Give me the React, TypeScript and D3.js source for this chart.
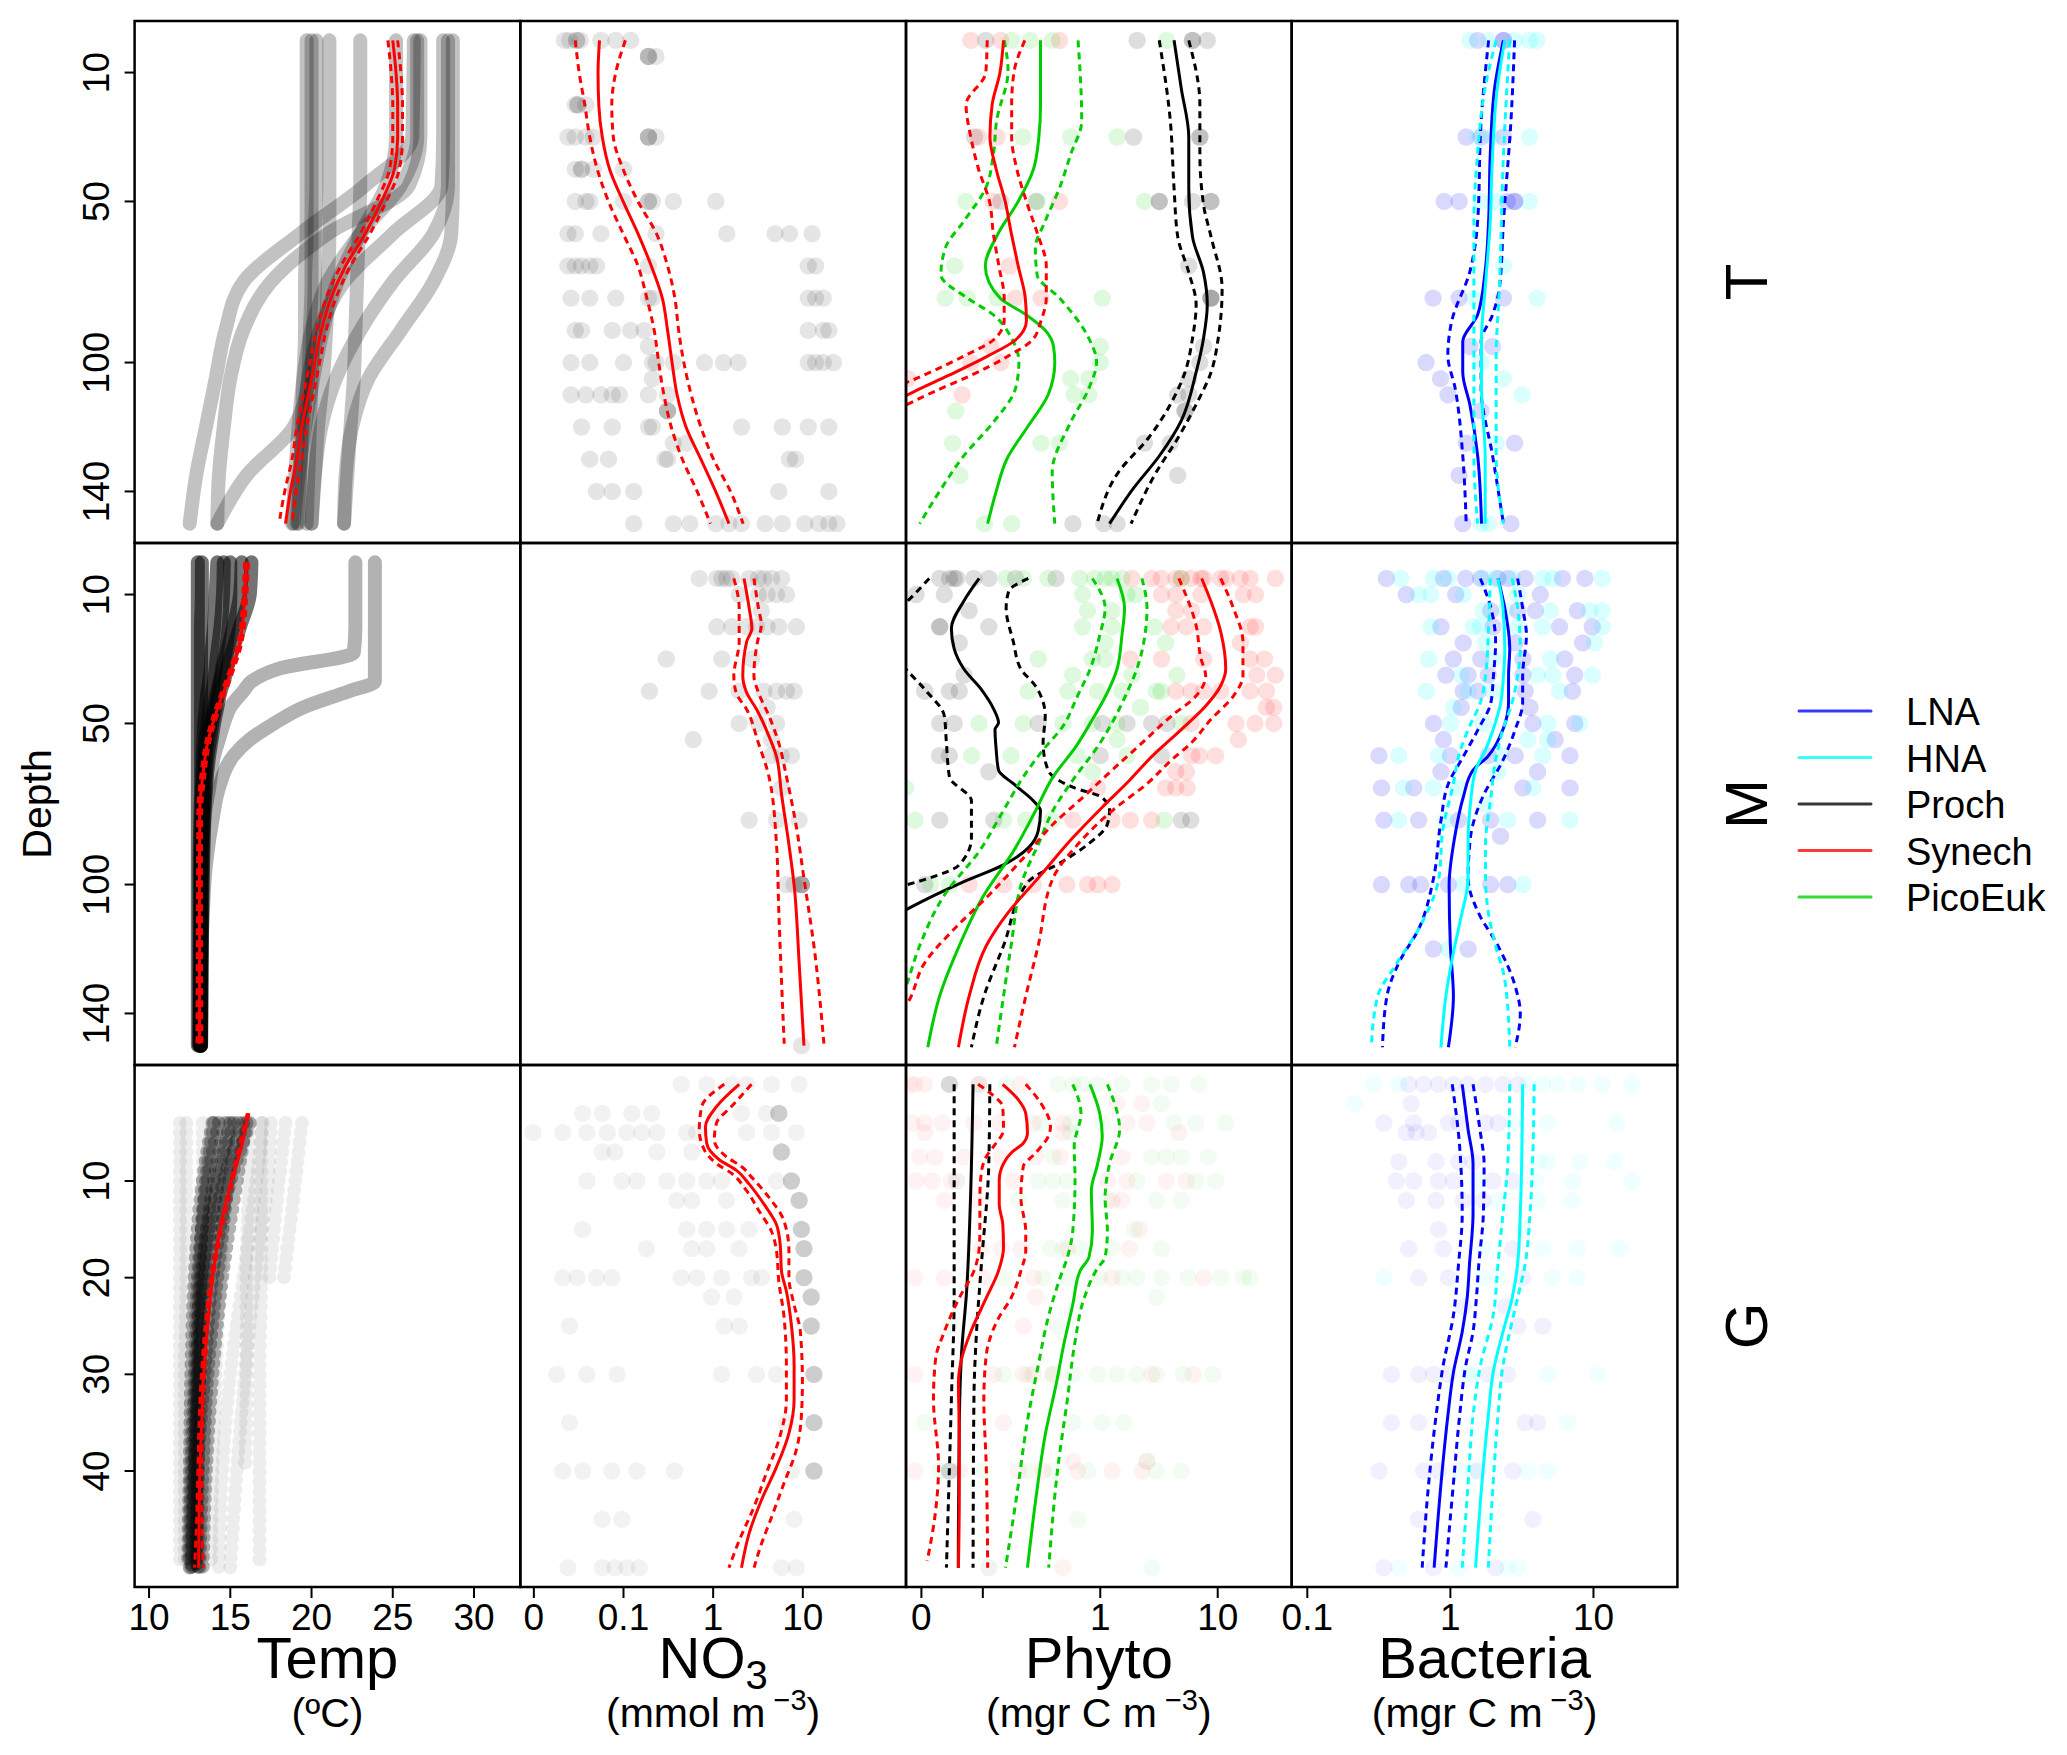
import React from 'react';
import * as d3 from 'd3';

type P = [number, number]; // [depth, value]
type Row = [number, number[]]; // depth, values seen at that depth

// ---------- temperature profiles ----------
const tempDepthT = [0, 30, 45, 60, 75, 90, 105, 120, 135, 150];
const tempProfT = [
  [19.7, 19.7, 19.7, 19.7, 19.6, 19.6, 19.5, 19.4, 19.3, 19.2],
  [20.3, 20.3, 20.3, 20.2, 20.2, 20.1, 20.0, 19.9, 19.8, 19.7],
  [21.1, 21.1, 21.1, 21.1, 21.0, 20.9, 20.7, 20.4, 20.2, 20.0],
  [23.0, 23.0, 23.0, 22.9, 22.8, 22.7, 22.6, 22.4, 22.2, 22.0],
  [25.2, 25.2, 24.6, 23.0, 21.6, 20.7, 20.1, 19.6, 19.2, 18.9],
  [26.3, 26.2, 23.3, 19.3, 15.8, 14.7, 14.1, 13.5, 12.9, 12.5],
  [26.7, 26.7, 26.0, 21.0, 17.5, 15.8, 15.0, 14.6, 14.3, 14.2],
  [28.1, 28.1, 28.0, 25.0, 22.0, 20.5, 19.8, 19.5, 19.3, 19.1],
  [28.4, 28.4, 28.4, 27.5, 25.0, 23.0, 21.5, 20.6, 20.2, 20.0],
  [28.7, 28.7, 28.7, 28.6, 27.5, 25.5, 23.5, 22.5, 22.1, 22.0],
  [20.0, 20.0, 20.0, 20.0, 20.0, 19.9, 19.8, 18.9, 16.0, 14.2],
  [26.5, 26.5, 25.5, 23.0, 21.0, 20.0, 19.5, 19.2, 19.0, 18.8],
];
const meanDepthT = [0, 10, 20, 30, 40, 50, 60, 70, 80, 90, 100, 110, 120, 130, 140, 150];
const tempMeanT = [25.0, 25.2, 25.3, 25.3, 25.1, 24.3, 23.3, 22.1, 21.2, 20.6, 20.2, 19.8, 19.4, 19.1, 18.7, 18.4];
const tempLoT = [24.7, 24.9, 25.0, 25.0, 24.8, 24.0, 23.0, 21.8, 20.9, 20.3, 19.9, 19.5, 19.1, 18.8, 18.35, 18.0];
const tempHiT = [25.3, 25.5, 25.6, 25.6, 25.4, 24.6, 23.6, 22.4, 21.5, 20.9, 20.5, 20.1, 19.7, 19.4, 19.05, 18.8];

const tempDepthM = [0, 10, 20, 28, 33, 37, 40, 45, 50, 55, 60, 70, 80, 100, 150];
const tempColdM = [
  [13.0, 13.0, 13.0, 13.0, 13.0, 13.0, 13.0, 13.0, 13.0, 13.0, 13.0, 13.0, 13.0, 13.0, 13.0],
  [13.25, 13.25, 13.2, 13.2, 13.2, 13.2, 13.2, 13.2, 13.2, 13.2, 13.2, 13.2, 13.15, 13.1, 13.1],
  [14.2, 14.1, 14.0, 13.85, 13.8, 13.7, 13.6, 13.5, 13.4, 13.35, 13.3, 13.25, 13.2, 13.15, 13.1],
  [14.6, 14.55, 14.4, 14.2, 14.1, 14.0, 13.9, 13.75, 13.6, 13.5, 13.4, 13.3, 13.25, 13.2, 13.15],
  [15.0, 15.0, 14.9, 14.7, 14.5, 14.35, 14.2, 14.0, 13.8, 13.6, 13.5, 13.4, 13.3, 13.2, 13.2],
  [15.7, 15.6, 15.2, 14.8, 14.6, 14.4, 14.3, 14.1, 13.9, 13.75, 13.6, 13.45, 13.35, 13.25, 13.2],
  [16.3, 16.2, 15.6, 15.1, 14.8, 14.6, 14.4, 14.2, 14.0, 13.85, 13.7, 13.5, 13.4, 13.3, 13.2],
];
const tempWarmM = [
  [22.7, 22.7, 22.7, 22.6, 18.0, 16.3, 15.8, 15.0, 14.6, 14.3, 14.0, 13.7, 13.4, 13.3, 13.2],
  [23.9, 23.9, 23.9, 23.9, 23.9, 23.9, 22.3, 19.5, 17.7, 16.2, 15.2, 14.3, 13.9, 13.4, 13.1],
];
const tempMeanM: P[] = [[0, 16.0], [10, 15.9], [24.7, 15.6], [35.2, 14.95], [45.6, 14.2], [56.1, 13.6], [66.6, 13.3], [77.1, 13.12], [98, 13.1], [149.4, 13.1]];
const tempLoM: P[] = [[0, 15.88], [10, 15.78], [24.7, 15.48], [35.2, 14.83], [45.6, 14.08], [56.1, 13.48], [66.6, 13.18], [77.1, 13.0], [98, 12.98], [149.4, 12.95]];
const tempHiM: P[] = [[0, 16.12], [10, 16.02], [24.7, 15.72], [35.2, 15.07], [45.6, 14.32], [56.1, 13.72], [66.6, 13.42], [77.1, 13.24], [98, 13.22], [149.4, 13.25]];

const tempDepthG = [4, 10, 20, 30, 40, 50];
const tempCoreG = [
  [15.8, 14.6, 13.6, 13.1, 12.8, 12.6],
  [15.2, 14.3, 13.4, 13.0, 12.8, 12.7],
  [14.7, 14.0, 13.2, 12.9, 12.7, 12.6],
  [16.2, 15.0, 13.9, 13.4, 13.0, 12.9],
  [14.3, 13.6, 13.0, 12.8, 12.6, 12.5],
  [13.9, 13.3, 12.8, 12.6, 12.5, 12.4],
  [15.5, 14.9, 14.2, 13.6, 13.3, 13.1],
  [16.0, 15.4, 14.5, 13.9, 13.5, 13.3],
  [14.0, 13.5, 13.1, 13.0, 12.9, 12.9],
  [15.0, 14.2, 13.3, 13.1, 13.0, 13.0],
];
const tempFaintG = [
  [11.9, 11.9, 11.9, 11.9, 11.9, 11.9],
  [12.3, 12.3, 12.3, 12.2, 12.2, 12.2],
  [16.9, 16.9, 16.9, 16.8, 16.8, 16.8],
  [16.1, 16.1, 16.0, 16.0, 15.9],
  [18.4, 18.0, 17.4],
  [19.4, 19.0, 18.3],
  [17.5, 17.3, 16.5, 15.9, 15.4, 15.0],
  [14.9, 14.7, 14.4, 14.1, 13.9, 13.8],
  [17.0, 16.6, 15.8, 15.0, 14.5, 14.3],
  [13.3, 13.3, 13.2, 13.2, 13.1, 13.1],
];
const tempMeanG: P[] = [[3, 16.1], [6.45, 15.7], [9.93, 15.09], [13.41, 14.57], [16.9, 14.18], [20.4, 13.87], [23.87, 13.66], [27.35, 13.48], [30.8, 13.32], [34.3, 13.26], [37.8, 13.17], [41.3, 13.11], [44.8, 13.08], [50, 13.05]];
const tempLoG: P[] = [[3, 16.05], [10, 15.03], [20, 13.8], [30, 13.22], [40, 13.0], [45, 12.93], [50, 12.8]];
const tempHiG: P[] = [[3, 16.15], [10, 15.15], [20, 13.94], [30, 13.42], [40, 13.25], [45, 13.25], [50, 13.35]];

// ---------- NO3 ----------
const no3PtsT: Row[] = [
  [0, [0.022, 0.025, 0.03, 0.03, 0.033, 0.056, 0.082, 0.12]],
  [5, [0.19, 0.19, 0.19, 0.23]],
  [20, [0.029, 0.031, 0.031, 0.038]],
  [30, [0.024, 0.029, 0.038, 0.046, 0.19, 0.19, 0.19, 0.23]],
  [40, [0.029, 0.034, 0.034, 0.046, 0.1]],
  [50, [0.029, 0.038, 0.042, 0.1, 0.19, 0.19, 0.21, 0.36, 1.07]],
  [60, [0.024, 0.029, 0.056, 0.23, 1.42, 4.9, 7.1, 12.7]],
  [70, [0.024, 0.029, 0.034, 0.042, 0.05, 0.19, 11.5, 13.9]],
  [80, [0.026, 0.042, 0.082, 0.19, 0.21, 11.5, 13.9, 16.9]],
  [90, [0.029, 0.034, 0.075, 0.12, 0.17, 11.5, 16.9, 19.5]],
  [95, [0.19]],
  [100, [0.026, 0.042, 0.1, 0.21, 0.23, 0.36, 0.8, 1.3, 1.9, 11.5, 13.9, 16.9, 22]],
  [105, [0.21]],
  [110, [0.026, 0.038, 0.056, 0.075, 0.09, 0.19, 0.31]],
  [115, [0.31, 0.31, 0.31]],
  [120, [0.034, 0.075, 0.19, 0.21, 2.07, 5.9, 11.5, 19.5]],
  [125, [0.36, 0.5]],
  [130, [0.042, 0.068, 0.29, 0.31, 7.1, 8.3]],
  [140, [0.05, 0.075, 0.13, 5.4, 19.5]],
  [150, [0.13, 0.36, 0.55, 1.07, 1.5, 2.07, 3.8, 5.9, 10.5, 15, 19.5, 24]],
];
const no3MeanT = [0.054, 0.052, 0.053, 0.058, 0.07, 0.099, 0.145, 0.204, 0.271, 0.31, 0.348, 0.396, 0.498, 0.729, 1.066, 1.5];
const no3LoT = [0.029, 0.032, 0.037, 0.042, 0.051, 0.068, 0.099, 0.145, 0.182, 0.22, 0.247, 0.282, 0.341, 0.453, 0.663, 0.934];
const no3HiT = [0.105, 0.082, 0.074, 0.077, 0.099, 0.145, 0.233, 0.31, 0.374, 0.412, 0.471, 0.569, 0.729, 1.008, 1.56, 2.16];

const no3PtsM: Row[] = [
  [5, [0.7, 1.1, 1.25, 1.41, 1.61, 2.52, 3.2, 3.69, 4.48, 5.78]],
  [10, [1.95, 3.2, 4.0, 5.09, 6.58]],
  [15, [3.45]],
  [20, [1.1, 1.61, 2.36, 3.05, 4.0, 5.4, 8.5]],
  [30, [0.3, 1.25, 2.7]],
  [40, [0.195, 0.9, 1.95, 3.69, 5.09, 6.58, 8.0]],
  [45, [4.0]],
  [50, [1.95, 3.2, 5.09]],
  [55, [0.6, 4.48]],
  [60, [4.48, 5.78, 7.48]],
  [70, [5.78]],
  [80, [2.52, 5.09, 9.1]],
  [100, [6.58, 8.0, 9.66, 9.66, 9.66, 9.66]],
  [150, [9.66]],
];
const no3MeanM: P[] = [[5, 2.21], [14.2, 2.52], [20.5, 2.7], [24.7, 2.36], [35.2, 2.14], [40.4, 2.36], [45.6, 3.05], [54, 4.2], [60.3, 5.09], [71.8, 5.78], [87.6, 7.0], [100.2, 8.0], [124.3, 9.1], [150, 10.3]];
const no3LoM: P[] = [[5, 1.7], [14.2, 1.95], [24.7, 1.95], [35.2, 1.7], [40.4, 1.8], [45.6, 2.36], [56.1, 3.2], [66.6, 4.2], [87.6, 5.09], [108.5, 5.4], [129.5, 5.78], [149.4, 6.2]];
const no3HiM: P[] = [[5, 2.85], [14.2, 3.2], [19.4, 3.45], [24.7, 3.12], [35.2, 2.85], [40.4, 3.2], [47.7, 4.2], [56.1, 5.4], [66.6, 6.58], [82.3, 8.5], [98.1, 10.3], [119, 13.3], [149.4, 17.2]];

const no3PtsG: Row[] = [
  [0, [0.44, 0.85, 1.6, 2.36, 4.47, 9.1]],
  [3, [0.035, 0.058, 0.124, 0.207, 1.09, 2.07, 3.93, 5.4, 5.4, 5.4, 5.4]],
  [5, [0.0098, 0.021, 0.039, 0.066, 0.109, 0.16, 0.236, 0.507, 0.655, 2.36, 4.47, 8.48]],
  [7, [0.058, 0.08, 0.236, 0.577, 5.78, 5.78, 5.78, 5.78]],
  [10, [0.039, 0.096, 0.141, 0.304, 0.507, 0.847, 1.24, 2.36, 5.08, 7.46, 7.46, 7.46, 7.46]],
  [12, [0.393, 0.577, 1.41, 9.1, 9.1, 9.1, 9.1]],
  [15, [0.035, 0.507, 0.847, 1.41, 2.51, 9.64, 9.64, 9.64, 9.64]],
  [17, [0.18, 0.577, 0.847, 1.95, 10.3, 10.3, 10.3, 10.3]],
  [20, [0.021, 0.0304, 0.05, 0.074, 0.44, 0.655, 1.24, 2.68, 3.46, 10.3, 10.3, 10.3, 10.3]],
  [22, [0.96, 1.71, 12.4, 12.4, 12.4, 12.4]],
  [25, [0.025, 1.33, 1.95, 12.4, 12.4, 12.4, 12.4]],
  [30, [0.018, 0.039, 0.085, 1.24, 3.05, 5.08, 13.3, 13.3, 13.3, 13.3]],
  [35, [0.025, 6.56, 13.3, 13.3, 13.3, 13.3]],
  [40, [0.021, 0.035, 0.074, 0.141, 0.37, 7.46, 13.3, 13.3, 13.3, 13.3]],
  [45, [0.058, 0.096, 8.0]],
  [50, [0.024, 0.058, 0.08, 0.109, 0.15, 5.78, 8.48]],
];
const no3MeanG: P[] = [[0, 1.95], [2.3, 1.09], [4.4, 0.82], [6.1, 0.847], [7.8, 1.17], [8.9, 1.82], [10.3, 2.51], [12.4, 3.69], [14.5, 5.08], [16.6, 5.6], [19.3, 5.78], [21.4, 6.56], [24.9, 7.46], [29.1, 8.0], [32.6, 8.0], [36.1, 7.0], [39.6, 5.08], [43, 3.46], [46.5, 2.51], [50, 2.07]];
const no3LoG: P[] = [[0, 1.33], [2.3, 0.745], [4.7, 0.7], [6.8, 0.8], [8.2, 1.09], [9.2, 1.6], [11, 2.36], [13.1, 3.25], [15.2, 4.47], [17.2, 5.08], [20.4, 5.4], [23.9, 6.15], [29.1, 6.56], [32.6, 6.56], [36.8, 5.4], [40.2, 3.93], [43.7, 2.86], [47.2, 1.95], [50, 1.5]];
const no3HiG: P[] = [[0, 2.68], [2.3, 1.6], [4.0, 1.09], [5.75, 1.03], [7.5, 1.41], [8.5, 2.07], [9.6, 2.68], [11.7, 4.2], [14.1, 6.15], [17.2, 7.0], [20, 7.0], [22.8, 8.0], [25.6, 9.4], [30.8, 9.9], [34.3, 9.64], [37.8, 8.48], [41.3, 6.15], [44.8, 4.47], [47.9, 3.35], [50, 2.86]];

// ---------- Phyto ----------
const prochPtsT: Row[] = [
  [0, [0.106, 2.06, 6.1, 6.1, 8.15]], [30, [0.085, 1.92, 7.05, 7.05]],
  [50, [0.142, 0.284, 3.18, 3.18, 6.1, 8.75, 8.75]], [70, [5.67]], [80, [8.75, 8.75, 8.75]],
  [95, [7.57]], [100, [7.05]], [105, [5.67]], [110, [4.56, 5.67]], [115, [5.27, 5.27]],
  [125, [2.38, 3.95]], [135, [4.56]], [150, [0.585, 1.07, 1.39]],
];
const synPtsT: Row[] = [
  [0, [0.079, 0.142, 0.45]], [30, [0.092, 0.132]], [50, [0.122, 0.45]], [70, [0.168]],
  [80, [0.189, 0.313]], [95, [0.117]], [100, [0.079, 0.142]], [105, [0.023]], [110, [0.0667]],
];
const picoPtsT: Row[] = [
  [0, [0.176, 0.253, 0.389, 3.67]], [30, [0.219, 0.56, 1.39]], [50, [0.0717, 0.292, 2.38]],
  [70, [0.0577]], [80, [0.0478, 0.0738, 0.132, 1.04]], [95, [1.0]], [100, [1.0]],
  [105, [0.56, 0.8]], [110, [0.6, 0.8]], [115, [0.059]], [125, [0.0553, 0.313, 0.45]],
  [135, [0.0638]], [150, [0.103, 0.176]],
];
const prochMeanT: P[] = [[0, 4.25], [15, 4.9], [30, 5.67], [46, 5.67], [61, 6.1], [72, 7.57], [82, 8.15], [92.5, 7.57], [103, 6.55], [118, 4.9], [129, 3.18], [139, 1.92], [150, 1.2]];
const prochLoT: P[] = [[0, 3.18], [25, 3.95], [46, 4.25], [61, 4.57], [72, 5.67], [82, 6.55], [92.5, 6.1], [103, 5.27], [113, 3.95], [123.5, 2.56], [134, 1.43], [150, 0.94]];
const prochHiT: P[] = [[0, 5.67], [20, 7.05], [35, 7.05], [51, 7.57], [61, 8.78], [77, 10.9], [92.5, 10.1], [103, 8.78], [113, 6.55], [123.5, 4.57], [134, 3.0], [150, 1.83]];
const synMeanT: P[] = [[0, 0.15], [10, 0.14], [20, 0.12], [30, 0.115], [40, 0.13], [50, 0.155], [60, 0.175], [70, 0.2], [80, 0.23], [87, 0.235], [93, 0.19], [98, 0.11], [104, 0.051], [109, 0.026], [113, 0.016]];
const synLoT: P[] = [[0, 0.109], [10, 0.106], [20, 0.072], [30, 0.079], [40, 0.092], [50, 0.114], [60, 0.123], [70, 0.137], [80, 0.152], [87, 0.152], [93, 0.123], [98, 0.069], [104, 0.031], [108, 0.017]];
const synHiT: P[] = [[0, 0.228], [10, 0.184], [20, 0.176], [30, 0.176], [40, 0.195], [50, 0.235], [60, 0.292], [70, 0.347], [80, 0.347], [87, 0.313], [93, 0.264], [98, 0.164], [104, 0.079], [109, 0.0385], [114, 0.02]];
const picoMeanT: P[] = [[0, 0.31], [10, 0.31], [20, 0.31], [30, 0.3], [40, 0.27], [50, 0.2], [60, 0.135], [70, 0.105], [80, 0.14], [85, 0.23], [90, 0.34], [95, 0.4], [100, 0.41], [110, 0.36], [120, 0.24], [130, 0.16], [140, 0.13], [150, 0.11]];
const picoLoT: P[] = [[0, 0.152], [9.5, 0.164], [25, 0.131], [35.4, 0.123], [45.8, 0.106], [56.1, 0.069], [64.4, 0.048], [72.8, 0.044], [80, 0.074], [85.2, 0.123], [92.5, 0.176], [99.8, 0.203], [108, 0.19], [118.5, 0.123], [128.9, 0.069], [139.3, 0.044], [150, 0.029]];
const picoHiT: P[] = [[0, 0.647], [25, 0.695], [35.4, 0.56], [45.8, 0.45], [56.1, 0.34], [64.4, 0.28], [72.8, 0.29], [80, 0.45], [92.5, 0.8], [99.8, 0.93], [108, 0.8], [118.5, 0.56], [134, 0.39], [150, 0.41]];

const prochPtsM: Row[] = [
  [5, [0.043, 0.052, 0.057, 0.06, 0.084, 0.1125, 0.19, 0.42]], [10, [0.027, 0.047]], [15, [0.0764]],
  [20, [0.043, 0.043, 0.1125]], [25, [0.063]], [35, [0.0693]], [40, [0.032, 0.052, 0.063]],
  [50, [0.043, 0.057, 0.296, 1.04, 1.69, 2.74, 3.7]], [60, [0.0428, 0.0519, 1.0, 3.32]],
  [65, [0.1125]], [80, [0.043, 0.124, 4.9, 5.9]], [100, [0.032]],
];
const synPtsM: Row[] = [
  [5, [1.86, 2.74, 3.32, 4.4, 4.89, 5.93, 7.2, 7.6, 10.6, 11.8, 15.6, 18.9, 31]], [10, [3.32, 4.4, 7.2, 16.5, 21]],
  [15, [4.4, 6.0]], [20, [4.0, 5.4, 7.6, 18.9, 21]], [25, [15.6]], [30, [1.8, 3.32, 7.6, 18.9, 25]],
  [35, [21.5, 31]], [40, [4.4, 5.93, 7.6, 10.6, 18.9, 26]], [45, [26, 30]], [50, [5.93, 14.3, 20.8, 30]],
  [55, [15]], [60, [6.0, 7.0, 9.6]], [65, [4.4, 5.4]], [70, [0.95, 3.6, 4.4, 5.5]],
  [80, [0.583, 1.26, 1.8, 2.74]], [100, [0.0764, 0.15, 0.269, 0.52, 0.78, 0.95, 1.26]],
];
const picoPtsM: Row[] = [
  [5, [0.158, 0.221, 0.359, 0.67, 0.9, 1.1, 1.26, 1.53, 4.89]], [10, [0.707, 1.69, 2.0]], [15, [0.78, 1.26]],
  [20, [0.707, 1.26, 2.9]], [25, [1.1, 3.6]], [30, [0.296, 0.857, 1.1]], [35, [0.583, 1.86, 4.5]],
  [40, [0.244, 0.53, 0.95, 1.53, 3.0, 3.3]], [45, [2.2]], [50, [0.0927, 0.221, 0.48, 0.857, 1.39, 4.89]],
  [55, [1.39]], [60, [0.08, 0.174, 0.641, 1.69]], [65, [0.857]], [70, [0.022]],
  [80, [0.0264, 0.15, 0.232, 0.385, 3.5]], [100, [0.036, 0.052]],
];
const prochMeanM: P[] = [[5, 0.093], [12, 0.069], [20.5, 0.054], [26.8, 0.057], [33.1, 0.069], [39.4, 0.097], [45.6, 0.124], [49.8, 0.136], [51.9, 0.127], [58.2, 0.13], [64.5, 0.136], [68.7, 0.182], [74, 0.269], [77.1, 0.31], [83.4, 0.296], [88.6, 0.244], [93.9, 0.15], [99.1, 0.069], [103.3, 0.039], [108, 0.0217], [113, 0.012]];
const prochLoM: P[] = [[5, 0.035], [10, 0.026], [15, 0.019], [22, 0.015], [28, 0.017], [33, 0.022], [39.4, 0.032], [47.7, 0.047], [56.1, 0.049], [66.6, 0.052], [74, 0.08], [85.5, 0.08], [93.9, 0.063], [98, 0.035], [101, 0.018]];
const prochHiM: P[] = [[5, 0.244], [9, 0.166], [14.2, 0.158], [24.7, 0.182], [33, 0.21], [38.3, 0.28], [47.7, 0.34], [56.1, 0.326], [64.5, 0.359], [69.8, 0.583], [73, 1.04], [77, 1.2], [81.3, 1.15], [87.6, 0.78], [92.8, 0.48], [99.1, 0.244], [119, 0.15], [134.8, 0.102], [150.5, 0.08]];
const synMeanM: P[] = [[5, 7.3], [12, 8.73], [21.5, 10.6], [33, 11.7], [38.3, 10.6], [44.6, 7.9], [51.9, 4.89], [60.3, 2.74], [67.7, 1.77], [76, 1.04], [85.5, 0.583], [98, 0.296], [108.5, 0.166], [119, 0.107], [134.7, 0.0764], [150.5, 0.062]];
const synLoM: P[] = [[5, 4.67], [19.4, 6.53], [29.9, 7.2], [35.2, 7.9], [41.5, 6.53], [47.7, 4.03], [56.1, 2.26], [64.5, 1.26], [73, 0.707], [81.3, 0.396], [91.8, 0.221], [103.3, 0.1125], [113.8, 0.057], [124.3, 0.032], [136.8, 0.0228], [145, 0.015]];
const synHiM: P[] = [[5, 10.6], [14.2, 13.6], [24.7, 16.4], [35.2, 16.4], [41.5, 13.6], [48.8, 8.73], [56.1, 5.93], [61.4, 4.03], [68.7, 2.5], [77.1, 1.26], [87.6, 0.641], [98, 0.396], [119, 0.296], [134.7, 0.232], [150.5, 0.186]];
const picoMeanM: P[] = [[5, 1.39], [14.2, 1.61], [22.6, 1.53], [33.1, 1.39], [40.4, 1.15], [48.8, 0.857], [57.2, 0.62], [66.6, 0.396], [77, 0.282], [89.7, 0.182], [103.3, 0.102], [119, 0.063], [134.7, 0.0428], [150.5, 0.034]];
const picoLoM: P[] = [[5, 0.857], [14.2, 1.1], [22.6, 0.99], [33.1, 0.82], [41.4, 0.641], [50.9, 0.48], [58.2, 0.326], [66.6, 0.221], [77, 0.15], [89.7, 0.093], [103.3, 0.047], [119, 0.029], [132.6, 0.0217], [140, 0.018]];
const picoHiM: P[] = [[5, 2.26], [14.2, 2.5], [22.6, 2.4], [33.1, 2.05], [40.4, 1.69], [49.8, 1.26], [57.2, 0.95], [66.6, 0.61], [77, 0.396], [87.6, 0.296], [98, 0.221], [119, 0.174], [134.7, 0.15], [150.5, 0.13]];

const prochPtsG: Row[] = [[0, [0.052, 0.052, 0.052, 0.0927]], [10, [0.06]], [40, [0.052, 0.052, 0.052]], [50, [0.1125]]];
const synPtsG: Row[] = [
  [0, [0.0239, 0.0264, 0.032, 0.0927, 0.21]], [2, [1.39, 2.26]],
  [4, [0.025, 0.032, 0.045, 0.084, 0.136, 0.269, 0.48, 1.69, 2.5]], [5, [0.032, 0.48, 4.67]],
  [7.5, [0.029, 0.039, 0.069, 0.143, 0.282, 0.455, 1.53]], [10, [0.027, 0.037, 0.054, 0.182, 1.15, 1.69, 3.65, 5.4]],
  [12, [0.047, 0.088, 1.26, 1.53]], [15, [2.15]], [17, [0.097, 0.143, 0.21, 0.525, 1.77]],
  [20, [0.0264, 0.047, 0.102, 0.269, 1.26, 7.6]], [22, [0.282]], [25, [0.221]],
  [30, [0.0264, 0.124, 0.221, 0.269, 0.396, 2.74, 6.2]], [35, [0.15]], [39, [0.583, 2.5]],
  [40, [0.0264, 0.063, 0.201, 0.326, 0.641, 1.26, 2.26]], [50, [0.48]],
];
const picoPtsG: Row[] = [
  [0, [0.158, 0.437, 0.583, 0.707, 0.95, 1.53, 2.74, 4.03, 6.9]], [2, [3.32]],
  [4, [0.31, 0.56, 1.04, 4.25, 6.5, 11.7]], [5, [0.56]], [7.5, [0.396, 2.74, 3.65, 4.89, 8.3]],
  [10, [0.296, 0.396, 0.525, 2.05, 6.5, 9.6]], [12, [0.201, 0.48, 1.15, 3.0, 4.89]], [15, [1.95]],
  [17, [0.377, 0.48, 0.673, 1.26, 3.32]],
  [20, [0.15, 0.326, 0.525, 0.99, 1.53, 2.05, 3.32, 5.6, 10.6, 16.5, 18.9]], [22, [3.0]], [25, [0.052, 0.437]],
  [30, [0.15, 0.244, 0.396, 0.583, 0.95, 1.39, 2.05, 3.0, 5.1, 9.1]], [35, [0.032, 0.583, 1.04, 1.6]],
  [39, [2.5]], [40, [0.0428, 0.102, 0.244, 0.396, 0.78, 3.0, 4.89]], [45, [0.641]], [50, [2.74]],
];
const prochMeanG: P[] = [[0, 0.0826], [13, 0.078], [21.4, 0.0728], [27.7, 0.066], [35.4, 0.063], [50, 0.0618]];
const prochLoG: P[] = [[0, 0.057], [22, 0.057], [32.6, 0.054], [50, 0.049]];
const prochHiG: P[] = [[0, 0.1147], [8.2, 0.1125], [18.6, 0.0973], [25.6, 0.0884], [32.6, 0.084], [50, 0.0826]];
const synMeanG: P[] = [[0, 0.1476], [1.6, 0.201], [3, 0.232], [5, 0.24], [6.1, 0.221], [7.1, 0.174], [8.2, 0.15], [9.9, 0.138], [12.4, 0.138], [14.5, 0.148], [16.9, 0.15], [19.3, 0.136], [22.1, 0.107], [25.6, 0.079], [28.4, 0.066], [30.8, 0.062], [36.1, 0.063], [43, 0.063], [50, 0.062]];
const synLoG: P[] = [[0, 0.091], [1.2, 0.124], [2.3, 0.1476], [4.7, 0.15], [6.4, 0.124], [7.5, 0.107], [9.2, 0.097], [11.7, 0.0944], [15.2, 0.0944], [17.2, 0.0927], [19.3, 0.084], [22.1, 0.063], [25.6, 0.047], [28.4, 0.0396], [32.6, 0.038], [39.5, 0.042], [44.8, 0.039], [49.3, 0.0336]];
const synHiG: P[] = [[0, 0.232], [1.9, 0.31], [4.4, 0.377], [5.4, 0.36], [7.1, 0.282], [8.5, 0.221], [11.7, 0.211], [15.2, 0.232], [17.2, 0.232], [19.3, 0.211], [22.1, 0.174], [24.2, 0.136], [28, 0.107], [32.6, 0.102], [39.5, 0.107], [50, 0.11]];
const picoMeanG: P[] = [[0, 0.817], [3, 0.99], [5.4, 1.04], [8.2, 0.95], [11, 0.84], [15.2, 0.857], [17.9, 0.8], [19.3, 0.673], [22.8, 0.583], [27.4, 0.48], [30.8, 0.425], [36.1, 0.342], [43, 0.282], [50, 0.24]];
const picoLoG: P[] = [[0, 0.583], [3, 0.685], [6.4, 0.6], [9.9, 0.61], [15.2, 0.583], [17.9, 0.525], [20, 0.455], [24.2, 0.359], [29.1, 0.296], [34.3, 0.244], [43, 0.192], [50, 0.156]];
const picoHiG: P[] = [[0, 1.15], [4.7, 1.46], [8.2, 1.2], [11.7, 1.1], [15.2, 1.15], [17.9, 1.1], [19, 0.95], [22.1, 0.73], [26.6, 0.61], [32.6, 0.525], [39.5, 0.437], [50, 0.364]];

// ---------- Bacteria ----------
const lnaPtsT: Row[] = [
  [0, [2.35, 2.35, 1.55]], [30, [1.29, 1.64, 2.35]], [50, [0.906, 1.15, 2.5, 2.81, 2.81]],
  [80, [0.757, 1.15, 2.35]], [95, [1.37, 1.97]], [100, [0.676]], [105, [0.853]], [110, [0.962]],
  [115, [1.64]], [125, [1.29, 2.81]], [135, [1.15]], [150, [1.22, 2.65]],
];
const hnaPtsT: Row[] = [
  [0, [1.37, 1.85, 2.81, 3.57, 4.03]], [30, [1.55, 1.97, 3.57]], [50, [1.64, 2.09, 3.57]], [70, [2.35]],
  [80, [1.46, 4.03]], [100, [1.64]], [105, [2.35]], [110, [3.17]], [125, [2.09]], [150, [1.64, 1.85]],
];
const lnaMeanT: P[] = [[0, 2.35], [14.6, 2.04], [35.4, 1.9], [56.2, 1.85], [71.7, 1.75], [85.2, 1.55], [93.5, 1.22], [102.9, 1.22], [113.2, 1.37], [128.8, 1.55], [150, 1.65]];
const lnaLoT: P[] = [[0, 1.85], [25, 1.64], [56.2, 1.55], [71.7, 1.37], [87.3, 1.02], [97.7, 0.96], [108, 1.08], [128.8, 1.22], [150, 1.29]];
const lnaHiT: P[] = [[0, 2.81], [25, 2.65], [56.2, 2.35], [77, 2.2], [85.2, 1.97], [93.5, 1.64], [108, 1.64], [128.8, 1.97], [150, 2.35]];
const hnaMeanT: P[] = [[0, 2.4], [14.6, 2.13], [40.6, 1.95], [56.2, 1.9], [77, 1.75], [92.5, 1.65], [108, 1.65], [128.8, 1.75], [150, 1.75]];
const hnaLoT: P[] = [[0, 2.09], [14.6, 1.75], [35, 1.55], [56.2, 1.46], [80, 1.46], [92.5, 1.46], [128.8, 1.46], [150, 1.55]];
const hnaHiT: P[] = [[0, 2.6], [35.4, 2.35], [77, 2.2], [98, 2.09], [128.8, 2.09], [150, 2.35]];

const lnaPtsM: Row[] = [
  [5, [0.357, 0.895, 1.28, 1.63, 2.15, 2.52, 3.33, 6.07, 8.7]], [10, [0.492, 1.09, 4.25]], [15, [1.91, 2.96, 3.93, 7.72]],
  [20, [0.859, 1.99, 5.8, 9.8]], [25, [1.23, 2.84, 8.4]], [30, [1.05, 1.63, 3.21, 6.3]], [35, [0.93, 1.33, 1.84, 3.21, 7.4]],
  [40, [1.23, 1.56, 3.33, 7.13]], [45, [1.19, 3.6]], [50, [0.762, 3.77, 7.4]], [55, [0.895, 5.4]],
  [60, [0.317, 1.0, 1.84, 2.84, 6.85]], [65, [0.859, 4.07]], [70, [0.33, 0.554, 3.21, 6.85]],
  [80, [0.343, 0.6, 1.14, 1.91, 4.07]], [85, [2.24]], [100, [0.33, 0.512, 0.62, 0.968, 1.91, 2.52]], [120, [0.762, 1.33]],
];
const hnaPtsM: Row[] = [
  [5, [0.45, 0.762, 0.968, 1.69, 2.07, 2.73, 4.42, 5.18, 11.5]], [10, [0.6, 0.73, 1.23, 2.96]], [15, [1.69, 2.43, 5.0, 9.4, 11.5]],
  [20, [0.73, 1.44, 1.63, 2.96, 4.42, 11.5]], [25, [1.76, 10.2]], [30, [0.705, 1.99, 5.0]], [35, [1.19, 4.07, 5.18, 9.82]],
  [40, [0.68, 1.33, 1.99, 5.8]], [45, [1.05]], [50, [1.0, 1.69, 4.78, 8.03]], [55, [3.47, 4.78]],
  [60, [0.436, 0.826, 2.24, 4.42]], [65, [2.15]], [70, [0.47, 0.762, 1.14, 3.77]], [75, [1.76]],
  [80, [0.436, 0.93, 2.52, 6.85]], [100, [1.23, 3.21]], [120, [0.968]],
];
const lnaMeanM: P[] = [[5, 2.15], [14.2, 2.4], [26.8, 2.6], [35.2, 2.55], [43.5, 2.55], [51.9, 2.33], [60.3, 1.82], [64.5, 1.44], [72.9, 1.23], [85.5, 1.07], [100.2, 0.98], [119, 1.0], [134.7, 1.05], [150.5, 0.968]];
const lnaLoM: P[] = [[5, 1.62], [14.2, 1.92], [24.7, 2.07], [35.2, 2.0], [43.5, 1.92], [51.9, 1.56], [60.3, 1.23], [68.7, 0.968], [80.2, 0.859], [98.1, 0.762], [113.8, 0.6], [124.3, 0.436], [134.7, 0.36], [150.5, 0.335]];
const lnaHiM: P[] = [[5, 2.95], [14.2, 3.2], [22.6, 3.4], [35.2, 3.2], [43.5, 3.2], [51.9, 2.84], [61.4, 2.33], [72.9, 1.68], [85.5, 1.38], [98.1, 1.33], [108.5, 1.56], [119, 2.15], [131.6, 2.84], [140, 3.08], [150.5, 2.84]];
const hnaMeanM: P[] = [[5, 2.15], [14.2, 2.33], [26.8, 2.4], [35.2, 2.35], [43.5, 2.25], [51.9, 1.99], [58.2, 1.76], [64.5, 1.5], [75, 1.38], [85.5, 1.33], [98.1, 1.33], [110.6, 1.18], [121.1, 1.05], [134.7, 0.93], [150.5, 0.859]];
const hnaLoM: P[] = [[5, 1.9], [20, 1.85], [35.2, 1.76], [43.5, 1.62], [51.9, 1.33], [60.3, 1.14], [68.7, 1.05], [82.3, 0.89], [98.1, 0.83], [113.8, 0.6], [125.3, 0.41], [134.7, 0.31], [150.5, 0.28]];
const hnaHiM: P[] = [[5, 2.7], [14.2, 2.95], [26.8, 3.08], [35.2, 2.95], [43.5, 2.7], [51.9, 2.33], [61.4, 2.07], [72.9, 1.92], [87.6, 1.76], [98.1, 1.76], [108.5, 1.84], [119, 2.07], [129.5, 2.4], [150.5, 2.6]];

const lnaPtsG: Row[] = [
  [0, [0.512, 0.65, 0.826, 1.05, 1.33, 1.76, 2.33, 2.96]], [2, [0.532]], [4, [0.343, 0.554, 0.968, 1.14, 1.76, 2.15]],
  [5, [0.492, 0.577, 0.705]], [8, [0.436, 0.794, 1.14, 1.44]], [10, [0.419, 0.554, 0.826, 1.05, 1.99, 2.73]],
  [12, [0.492, 0.794, 1.23, 1.69]], [15, [0.826]], [17, [0.512, 0.895, 2.73]], [20, [0.6, 0.968, 3.21]],
  [23, [1.23, 2.43]], [25, [2.96, 4.42]], [30, [0.387, 0.6, 0.762, 0.968, 1.84, 2.52]], [35, [0.387, 0.6, 3.33, 4.07]],
  [40, [0.317, 0.65, 0.826, 1.56, 2.73]], [45, [0.6, 3.77]], [50, [0.343, 0.762, 2.07]],
];
const hnaPtsG: Row[] = [
  [0, [0.292, 0.436, 3.47, 4.42, 5.61, 7.72, 11.5, 18.6]], [2, [0.213]], [4, [2.73, 4.78, 14.6]],
  [8, [4.07, 4.78, 8.03, 14.1]], [10, [1.56, 3.93, 7.13, 18.6]], [12, [2.15, 4.07, 7.13]], [15, [3.21]],
  [17, [1.69, 4.42, 7.72, 15.2]], [20, [0.343, 1.69, 2.15, 5.18, 7.72]], [30, [1.33, 1.44, 4.78, 10.6]],
  [35, [6.58]], [40, [1.14, 1.44, 3.47, 4.78]], [45, [1.84]], [50, [0.436, 1.14, 2.52, 2.96]],
];
const lnaMeanG: P[] = [[0, 1.21], [4.7, 1.33], [8.2, 1.44], [13.4, 1.44], [18.6, 1.36], [22.1, 1.31], [25.6, 1.21], [29.8, 1.05], [34.3, 0.96], [41.3, 0.86], [50, 0.77]];
const lnaLoG: P[] = [[0, 1.03], [6.4, 1.16], [13.4, 1.21], [18.6, 1.14], [23.9, 1.05], [29.1, 0.89], [34.3, 0.794], [41.3, 0.705], [50, 0.635]];
const lnaHiG: P[] = [[0, 1.44], [4.7, 1.61], [8.2, 1.72], [13.4, 1.7], [18.6, 1.58], [22.1, 1.52], [25.6, 1.44], [29.1, 1.28], [34.3, 1.16], [41.3, 1.05], [50, 0.93]];
const hnaMeanG: P[] = [[0, 3.2], [8.2, 3.15], [13.4, 3.08], [18.6, 2.95], [22.1, 2.7], [25.6, 2.33], [29.8, 1.99], [34.3, 1.84], [41.3, 1.66], [50, 1.5]];
const hnaLoG: P[] = [[0, 2.6], [8.2, 2.52], [13.4, 2.33], [18.6, 2.15], [23.9, 1.99], [29.1, 1.62], [34.3, 1.44], [41.3, 1.33], [50, 1.21]];
const hnaHiG: P[] = [[0, 3.85], [8.2, 3.75], [13.4, 3.6], [18.6, 3.33], [22.1, 2.95], [25.6, 2.6], [29.1, 2.33], [34.3, 2.15], [41.3, 1.99], [50, 1.84]];

// ---------- axes / labels ----------
const tempTicks = [10, 15, 20, 25, 30];
const no3Ticks: [number, string][] = [[0.01, '0'], [0.1, '0.1'], [1, '1'], [10, '10']];
const phytoTicks: [number, string][] = [[0.03, '0'], [0.1, ''], [1, '1'], [10, '10']];
const bactTicks: [number, string][] = [[0.1, '0.1'], [1, '1'], [10, '10']];
const depthTicks = [[10, 50, 100, 140], [10, 50, 100, 140], [10, 20, 30, 40]];
const rowNames = ['T', 'M', 'G'];
const legendItems: [string, string][] = [['LNA', '#0000ff'], ['HNA', '#00ffff'], ['Proch', '#000000'], ['Synech', '#ff0000'], ['PicoEuk', '#00cd00']];

// ---------- layout ----------
const X0 = 134.6, CW = 385.7, Y0 = 21, RH = 522;
const BOTTOM = Y0 + 3 * RH;
const FONT = '"Liberation Sans", Arial, Helvetica, sans-serif';
const COL = { proch: '#000000', syn: '#ff0000', pico: '#00cd00', lna: '#0000ff', hna: '#00ffff' };
const colL = (c: number) => X0 + c * CW;
const rowT = (r: number) => Y0 + r * RH;

const xs = [
  d3.scaleLinear().domain([9.11, 32.85]).range([colL(0), colL(1)]),
  d3.scaleLog().domain([0.00706, 141.6]).range([colL(1), colL(2)]),
  d3.scaleLog().domain([0.02218, 42.66]).range([colL(2), colL(3)]),
  d3.scaleLog().domain([0.0778, 38.6]).range([colL(3), colL(4)]),
];
const ys = [
  d3.scaleLinear().domain([-6, 156]).range([rowT(0), rowT(1)]),
  d3.scaleLinear().domain([-6, 156]).range([rowT(1), rowT(2)]),
  d3.scaleLinear().domain([-2, 52]).range([rowT(2), rowT(3)]),
];

type Sc = (v: number) => number;
const zip = (depths: number[], vals: number[]): P[] => vals.map((v, i) => [depths[i], v]);
const pathOf = (pts: P[], x: Sc, y: Sc) =>
  d3.line<P>().x(p => x(p[1])).y(p => y(p[0])).curve(d3.curveMonotoneY)(pts) ?? '';

const Dots = ({ rows, x, y, color, alpha }: { rows: Row[]; x: Sc; y: Sc; color: string; alpha: number }) => (
  <g fill={color} fillOpacity={alpha}>
    {rows.flatMap(([d, vs], i) => vs.map((v, j) => <circle key={`${i}-${j}`} cx={x(v)} cy={y(d)} r={8.7} />))}
  </g>
);

const Smooth = ({ mean, lo, hi, color, x, y }: { mean: P[]; lo: P[]; hi: P[]; color: string; x: Sc; y: Sc }) => (
  <g fill="none" stroke={color} strokeWidth={3} strokeLinejoin="round">
    <path d={pathOf(lo, x, y)} strokeDasharray="7 5" />
    <path d={pathOf(hi, x, y)} strokeDasharray="7 5" />
    <path d={pathOf(mean, x, y)} />
  </g>
);

const Profiles = ({ depths, sets, x, y, alpha, dotted }: { depths: number[]; sets: number[][]; x: Sc; y: Sc; alpha: number; dotted?: boolean }) => (
  <g fill="none" stroke="#000" strokeOpacity={alpha} strokeWidth={14} strokeLinecap="round" strokeLinejoin="round">
    {sets.map((s, i) => (
      <path key={i} d={pathOf(zip(depths, s), x, y)} strokeDasharray={dotted ? '0 9.7' : undefined} />
    ))}
  </g>
);

function panelContent(r: number, c: number) {
  const x = xs[c] as unknown as Sc;
  const y = ys[r] as unknown as Sc;
  if (c === 0) {
    if (r === 0) return (<>
      <Profiles depths={tempDepthT} sets={tempProfT} x={x} y={y} alpha={0.24} />
      <Smooth mean={zip(meanDepthT, tempMeanT)} lo={zip(meanDepthT, tempLoT)} hi={zip(meanDepthT, tempHiT)} color={COL.syn} x={x} y={y} />
    </>);
    if (r === 1) return (<>
      <Profiles depths={tempDepthM} sets={tempColdM} x={x} y={y} alpha={0.55} />
      <Profiles depths={tempDepthM} sets={tempWarmM} x={x} y={y} alpha={0.3} />
      <Smooth mean={tempMeanM} lo={tempLoM} hi={tempHiM} color={COL.syn} x={x} y={y} />
    </>);
    return (<>
      <Profiles depths={tempDepthG} sets={tempFaintG} x={x} y={y} alpha={0.07} dotted />
      <Profiles depths={tempDepthG} sets={tempCoreG} x={x} y={y} alpha={0.3} dotted />
      <Smooth mean={tempMeanG} lo={tempLoG} hi={tempHiG} color={COL.syn} x={x} y={y} />
    </>);
  }
  if (c === 1) {
    if (r === 0) return (<>
      <Dots rows={no3PtsT} x={x} y={y} color="#000" alpha={0.1} />
      <Smooth mean={zip(meanDepthT, no3MeanT)} lo={zip(meanDepthT, no3LoT)} hi={zip(meanDepthT, no3HiT)} color={COL.syn} x={x} y={y} />
    </>);
    if (r === 1) return (<>
      <Dots rows={no3PtsM} x={x} y={y} color="#000" alpha={0.1} />
      <Smooth mean={no3MeanM} lo={no3LoM} hi={no3HiM} color={COL.syn} x={x} y={y} />
    </>);
    return (<>
      <Dots rows={no3PtsG} x={x} y={y} color="#000" alpha={0.05} />
      <Smooth mean={no3MeanG} lo={no3LoG} hi={no3HiG} color={COL.syn} x={x} y={y} />
    </>);
  }
  if (c === 2) {
    const a = r === 2 ? 0.05 : 0.13;
    const sets = [
      [prochPtsT, synPtsT, picoPtsT, prochMeanT, prochLoT, prochHiT, synMeanT, synLoT, synHiT, picoMeanT, picoLoT, picoHiT],
      [prochPtsM, synPtsM, picoPtsM, prochMeanM, prochLoM, prochHiM, synMeanM, synLoM, synHiM, picoMeanM, picoLoM, picoHiM],
      [prochPtsG, synPtsG, picoPtsG, prochMeanG, prochLoG, prochHiG, synMeanG, synLoG, synHiG, picoMeanG, picoLoG, picoHiG],
    ][r] as any[];
    return (<>
      <Dots rows={sets[0]} x={x} y={y} color={COL.proch} alpha={a} />
      <Dots rows={sets[1]} x={x} y={y} color={COL.syn} alpha={a} />
      <Dots rows={sets[2]} x={x} y={y} color={COL.pico} alpha={a} />
      <Smooth mean={sets[3]} lo={sets[4]} hi={sets[5]} color={COL.proch} x={x} y={y} />
      <Smooth mean={sets[9]} lo={sets[10]} hi={sets[11]} color={COL.pico} x={x} y={y} />
      <Smooth mean={sets[6]} lo={sets[7]} hi={sets[8]} color={COL.syn} x={x} y={y} />
    </>);
  }
  const a = r === 2 ? 0.06 : 0.15;
  const sets = [
    [lnaPtsT, hnaPtsT, lnaMeanT, lnaLoT, lnaHiT, hnaMeanT, hnaLoT, hnaHiT],
    [lnaPtsM, hnaPtsM, lnaMeanM, lnaLoM, lnaHiM, hnaMeanM, hnaLoM, hnaHiM],
    [lnaPtsG, hnaPtsG, lnaMeanG, lnaLoG, lnaHiG, hnaMeanG, hnaLoG, hnaHiG],
  ][r] as any[];
  return (<>
    <Dots rows={sets[0]} x={x} y={y} color={COL.lna} alpha={a} />
    <Dots rows={sets[1]} x={x} y={y} color={COL.hna} alpha={a} />
    <Smooth mean={sets[2]} lo={sets[3]} hi={sets[4]} color={COL.lna} x={x} y={y} />
    <Smooth mean={sets[5]} lo={sets[6]} hi={sets[7]} color={COL.hna} x={x} y={y} />
  </>);
}

export default function App() {
  const bottomTicks: [number, string][][] = [tempTicks.map(t => [t, String(t)] as [number, string]), no3Ticks, phytoTicks, bactTicks];
  const cx = (c: number) => colL(c) + CW / 2;
  return (
    <svg width={2067} height={1755} viewBox="0 0 2067 1755"
      style={{ position: 'absolute', left: 0, top: 0, background: '#fff' }} fontFamily={FONT}>
      <rect width={2067} height={1755} fill="#fff" />
      <defs>
        {[0, 1, 2].flatMap(r => [0, 1, 2, 3].map(c => (
          <clipPath key={`${r}${c}`} id={`clip${r}${c}`}>
            <rect x={colL(c)} y={rowT(r)} width={CW} height={RH} />
          </clipPath>
        )))}
      </defs>

      {[0, 1, 2].flatMap(r => [0, 1, 2, 3].map(c => (
        <g key={`p${r}${c}`} clipPath={`url(#clip${r}${c})`}>{panelContent(r, c)}</g>
      )))}

      {[0, 1, 2].flatMap(r => [0, 1, 2, 3].map(c => (
        <rect key={`b${r}${c}`} x={colL(c)} y={rowT(r)} width={CW} height={RH} fill="none" stroke="#000" strokeWidth={2.5} />
      )))}

      {/* depth axes */}
      {depthTicks.map((ticks, r) => (
        <g key={`ya${r}`}>
          {ticks.map(t => {
            const yy = ys[r](t);
            return (
              <g key={t}>
                <line x1={X0 - 10} x2={X0} y1={yy} y2={yy} stroke="#000" strokeWidth={2} />
                <text transform={`translate(109,${yy}) rotate(-90)`} textAnchor="middle" fontSize={37}>{t}</text>
              </g>
            );
          })}
        </g>
      ))}
      <text transform="translate(51,804) rotate(-90)" textAnchor="middle" fontSize={41}>Depth</text>

      {/* bottom axes */}
      {bottomTicks.map((ticks, c) => (
        <g key={`xa${c}`}>
          {ticks.map(([v, lab]) => {
            const xx = (xs[c] as unknown as Sc)(v);
            return (
              <g key={v}>
                <line x1={xx} x2={xx} y1={BOTTOM} y2={BOTTOM + 11} stroke="#000" strokeWidth={2} />
                {lab && <text x={xx} y={1630} textAnchor="middle" fontSize={37}>{lab}</text>}
              </g>
            );
          })}
        </g>
      ))}

      {/* column titles */}
      <g textAnchor="middle">
        <text x={cx(0)} y={1678} fontSize={58}>Temp</text>
        <text x={cx(0)} y={1727} fontSize={41}>(ºC)</text>
        <text x={cx(1)} y={1678} fontSize={58}>NO<tspan fontSize={40} dy={11}>3</tspan></text>
        <text x={cx(1)} y={1727} fontSize={41}>(mmol m<tspan fontSize={29} dy={-17}> −3</tspan><tspan dy={17}>)</tspan></text>
        <text x={cx(2)} y={1678} fontSize={58}>Phyto</text>
        <text x={cx(2)} y={1727} fontSize={41}>(mgr C m<tspan fontSize={29} dy={-17}> −3</tspan><tspan dy={17}>)</tspan></text>
        <text x={cx(3)} y={1678} fontSize={58}>Bacteria</text>
        <text x={cx(3)} y={1727} fontSize={41}>(mgr C m<tspan fontSize={29} dy={-17}> −3</tspan><tspan dy={17}>)</tspan></text>
      </g>

      {/* row labels */}
      {rowNames.map((n, r) => (
        <text key={n} transform={`translate(1767,${rowT(r) + RH / 2}) rotate(-90)`} textAnchor="middle" fontSize={60}>{n}</text>
      ))}

      {/* legend */}
      {legendItems.map(([lab, col], i) => {
        const yy = 711 + i * 46.5;
        return (
          <g key={lab}>
            <line x1={1799} x2={1871} y1={yy} y2={yy} stroke={col} strokeOpacity={0.78} strokeWidth={3} strokeLinecap="round" />
            <text x={1906} y={yy + 14} fontSize={38}>{lab}</text>
          </g>
        );
      })}
    </svg>
  );
}
